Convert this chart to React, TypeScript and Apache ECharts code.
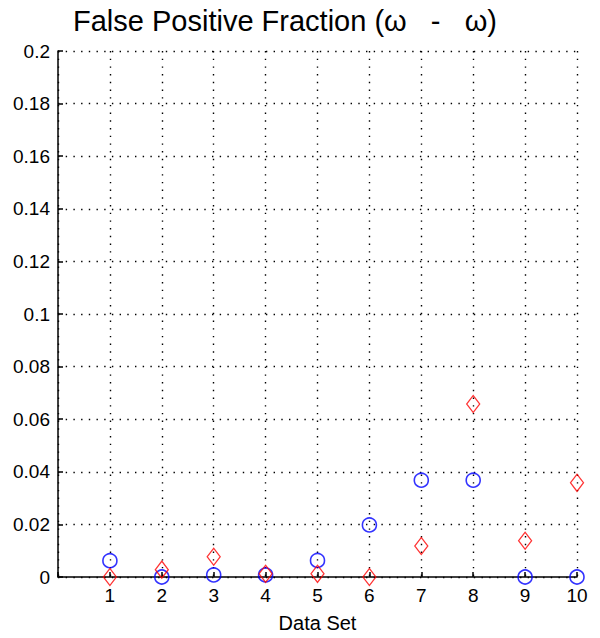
import React, { useEffect, useRef } from "react";
import * as echarts from "echarts";

const dataSets = [1, 2, 3, 4, 5, 6, 7, 8, 9, 10];
const blueCircles = [0.0062, 0.0, 0.0008, 0.0008, 0.0063, 0.0198, 0.0368, 0.0368, 0.0, 0.0];
const redDiamonds = [0.0, 0.0028, 0.0077, 0.0012, 0.0012, 0.0, 0.0118, 0.0658, 0.0138, 0.0358];
const titleText = "False Positive Fraction (\u03C9   -   \u03C9)";
const xLabel = "Data Set";

const font = "'Liberation Sans', Arial, sans-serif";

export default function App() {
  const ref = useRef<HTMLDivElement>(null);
  useEffect(() => {
    if (!ref.current) return;
    const chart = echarts.init(ref.current, undefined, { renderer: "svg" });
    const dotted = { color: "#000", width: 1.4, type: [1.4, 6.3] as any };
    chart.setOption({
      animation: false,
      backgroundColor: "#fff",
      title: {
        text: titleText,
        left: 68,
        top: 1,
        textStyle: { fontFamily: font, fontSize: 29, fontWeight: "normal", color: "#000" },
      },
      grid: { left: 58, right: 23, top: 51, bottom: 61, containLabel: false, outerBoundsMode: "none" },
      xAxis: {
        type: "value",
        min: 0,
        max: 10,
        interval: 1,
        name: xLabel,
        nameLocation: "middle",
        nameGap: 36,
        nameTextStyle: { fontFamily: font, fontSize: 20, color: "#000" },
        axisLine: { show: true, onZero: false, lineStyle: { color: "#000", width: 1.5 } },
        axisTick: { show: true, inside: true, length: 5, lineStyle: { color: "#000", width: 1.5 } },
        axisLabel: {
          fontFamily: font,
          fontSize: 19,
          color: "#000",
          margin: 9,
          formatter: (v: number) => (v === 0 ? "" : String(v)),
        },
        splitLine: { show: true, lineStyle: dotted },
      },
      yAxis: {
        type: "value",
        min: 0,
        max: 0.2,
        interval: 0.02,
        axisLine: { show: true, lineStyle: { color: "#000", width: 1.5 } },
        axisTick: { show: true, inside: true, length: 5, lineStyle: { color: "#000", width: 1.5 } },
        axisLabel: {
          fontFamily: font,
          fontSize: 19,
          color: "#000",
          margin: 8,
          formatter: (v: number) => String(Number(v.toFixed(2))),
        },
        splitLine: { show: true, lineStyle: dotted },
      },
      series: [
        {
          type: "scatter",
          data: dataSets.map((x, i) => [x, blueCircles[i]]),
          symbol: "circle",
          symbolSize: 14,
          itemStyle: { color: "rgba(0,0,0,0)", borderColor: "#0000ff", borderWidth: 1.6 },
          z: 3,
        },
        {
          type: "scatter",
          data: dataSets.map((x, i) => [x, redDiamonds[i]]),
          symbol: "diamond",
          symbolSize: [13, 17],
          itemStyle: { color: "rgba(0,0,0,0)", borderColor: "#ff0000", borderWidth: 1.3 },
          z: 4,
        },
      ],
    });
    return () => chart.dispose();
  }, []);
  return <div ref={ref} style={{ width: 600, height: 638, position: "absolute", left: 0, top: 0 }} />;
}
